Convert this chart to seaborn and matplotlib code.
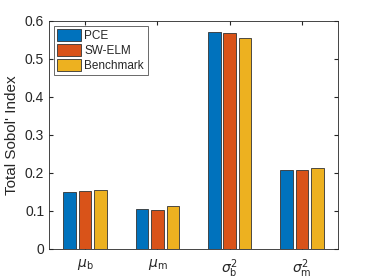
import matplotlib
matplotlib.use('Agg')
import matplotlib.pyplot as plt
import seaborn as sns
import pandas as pd

params = [r'$\mu_{\rm b}$', r'$\mu_{\rm m}$', r'$\sigma^2_{\rm b}$', r'$\sigma^2_{\rm m}$']
methods = ['PCE', 'SW-ELM', 'Benchmark']
pce = [0.150, 0.104, 0.570, 0.207]
swelm = [0.152, 0.103, 0.568, 0.207]
bench = [0.155, 0.112, 0.555, 0.212]
colors = ['#0072BD', '#D95319', '#EDB120']

df = pd.DataFrame({
    'param': params * 3,
    'method': [m for m in methods for _ in params],
    'value': pce + swelm + bench,
})

sns.set_style('white')
plt.rcParams['font.family'] = ['Liberation Sans', 'DejaVu Sans']
plt.rcParams['mathtext.fontset'] = 'dejavusans'

fig = plt.figure(figsize=(3.74, 2.80), dpi=100)
ax = fig.add_axes([0.131, 0.111, 0.773, 0.814])
sns.barplot(data=df, x='param', y='value', hue='method', palette=colors,
            saturation=1, width=0.64, gap=0.18, edgecolor='#333333',
            linewidth=0.6, ax=ax)

ax.set_ylim(0, 0.6)
ax.set_yticks([0, 0.1, 0.2, 0.3, 0.4, 0.5, 0.6])
ax.set_yticklabels(['0', '0.1', '0.2', '0.3', '0.4', '0.5', '0.6'])
ax.set_xlim(-0.5, 3.5)
ax.set_xlabel('')
ax.set_ylabel("Total Sobol' Index", fontsize=11, color='#262626')
ax.tick_params(direction='in', length=3, color='#262626', labelcolor='#262626',
               labelsize=10, top=True, right=True, bottom=True, left=True)
ax.tick_params(axis='x', pad=6)
for s in ax.spines.values():
    s.set_color('#262626')
    s.set_linewidth(0.6)

leg = ax.legend(loc='upper left', fontsize=8.5, frameon=True, fancybox=False,
                edgecolor='#262626', handlelength=2.0, handleheight=1.2,
                borderpad=0.3, labelspacing=0.15, handletextpad=0.3,
                borderaxespad=0.4)
leg.get_frame().set_linewidth(0.6)

fig.savefig('out.png', dpi=100)
